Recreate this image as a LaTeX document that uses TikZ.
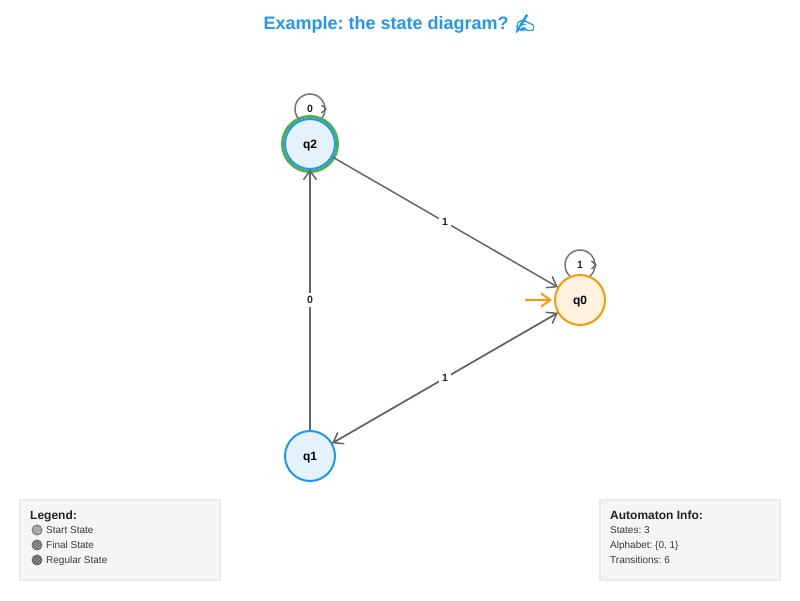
\documentclass[tikz,border=0pt]{standalone}
\usepackage{fontspec}
\setmainfont{Liberation Sans}
\newfontfamily\emojifont[FakeBold=2]{Noto Emoji}
\usetikzlibrary{arrows.meta,patterns}
\definecolor{tblue}{HTML}{2196F3}
\definecolor{sblue}{HTML}{E3F2FD}
\definecolor{sorange}{HTML}{FFF3E0}
\definecolor{torange}{HTML}{FF9800}
\definecolor{tgreen}{HTML}{4CAF50}
\definecolor{edgegray}{HTML}{666666}
\definecolor{boxfill}{HTML}{F5F5F5}
\definecolor{boxline}{HTML}{EAEAEA}
\definecolor{ink}{HTML}{222222}
\pgfarrowsdeclare{openvee}{openvee}{\pgfarrowsleftextend{-8pt}\pgfarrowsrightextend{0.8pt}}{%
  \pgfsetdash{}{0pt}\pgfsetmiterjoin
  \pgfpathmoveto{\pgfpoint{-9pt}{6.5pt}}
  \pgfpathlineto{\pgfpoint{0pt}{0pt}}
  \pgfpathlineto{\pgfpoint{-9pt}{-6.5pt}}
  \pgfusepathqstroke}
\tikzset{
  statenode/.style={circle,draw=tblue,fill=sblue,line width=2pt,minimum size=50pt,inner sep=0pt,font=\fontsize{12}{14}\selectfont\bfseries,text height=8.6pt,text depth=0pt},
  finalring/.style={circle,draw=tgreen,line width=3pt,minimum size=55pt,inner sep=0pt},
  edgeline/.style={draw=edgegray,line width=1.5pt,-openvee},
  edgelabel/.style={fill=white,inner sep=3pt,font=\fontsize{10.5}{12}\selectfont\bfseries,text=ink,text height=7.5pt,text depth=0pt},
  loopcircle/.style={circle,draw=edgegray!90,line width=1.5pt,minimum size=30pt,inner sep=0pt},
  loophead/.style={draw=edgegray,line width=1.3pt},
  infobox/.style={draw=boxline,fill=boxfill,line width=1.5pt},
  boxtitle/.style={anchor=base west,inner sep=0pt,font=\fontsize{12}{14}\selectfont\bfseries,text=ink},
  boxtext/.style={anchor=base west,inner sep=0pt,font=\fontsize{10}{12}\selectfont,text=ink!90},
  legenddot/.style={circle,draw=edgegray,line width=.8pt,minimum size=10pt,inner sep=0pt},
}
\frenchspacing
\begin{document}
\begin{tikzpicture}[x=1pt,y=-1pt]
\useasboundingbox (0,0) rectangle (800,600);
\node[inner sep=0pt,text=tblue,font=\fontsize{18}{22}\selectfont\bfseries] (title) at (400,24) {Example: the state diagram? {\emojifont\symbol{"270D}}};

\node[loopcircle] (loopq2) at (310,109) {};
\node[loopcircle] (loopq0) at (580,265) {};
\draw[loophead] (321.5,105) -- (326,109) -- (321.5,113);
\draw[loophead] (591.5,261) -- (596,265) -- (591.5,269);
\node[edgelabel,fill=none] (lq2) at (310,109) {0};
\node[edgelabel,fill=none] (lq0) at (580,265) {1};

\node[finalring] (ring) at (310,144) {};
\node[statenode] (q2) at (310,144) {q2};
\node[statenode] (q1) at (310,456) {q1};
\node[statenode,draw=torange,fill=sorange] (q0) at (580,300) {q0};

\coordinate (startpt) at (525,300);
\draw[draw=torange,line width=2pt,shorten >=3pt,-openvee] (startpt) -- (q0.west);

\draw[edgeline] (q1) -- node[edgelabel,pos=.5] {0} (q2);
\draw[edgeline] (q2) -- node[edgelabel,pos=.5] {1} (q0);
\draw[edgeline] (q0) -- node[edgelabel,pos=.5] {1} (q1);
\draw[edgeline] (q1) -- (q0);
\node[edgelabel] (lq10) at (445,378) {1};

\node[infobox,minimum width=200pt,minimum height=80pt,inner sep=0pt] (legend) at (120,540) {};
\node[boxtitle] (legtitle) at (30,519) {Legend:};
\node[legenddot,fill=black!25,postaction={pattern=north east lines,pattern color=black!50}] (d1) at (37,530) {};
\node[legenddot,fill=black!40,postaction={pattern=north east lines,pattern color=black!65}] (d2) at (37,545) {};
\node[legenddot,fill=black!45,postaction={pattern=north east lines,pattern color=black!70}] (d3) at (37,560) {};
\node[boxtext] (t1) at (46,533.5) {Start State};
\node[boxtext] (t2) at (46,548.5) {Final State};
\node[boxtext] (t3) at (46,563.5) {Regular State};

\node[infobox,minimum width=180pt,minimum height=80pt,inner sep=0pt] (info) at (690,540) {};
\node[boxtitle] (inftitle) at (610,519) {Automaton Info:};
\node[boxtext] (i1) at (610,533.5) {States: 3};
\node[boxtext] (i2) at (610,548.5) {Alphabet: \{0, 1\}};
\node[boxtext] (i3) at (610,563.5) {Transitions: 6};
\end{tikzpicture}
\end{document}
